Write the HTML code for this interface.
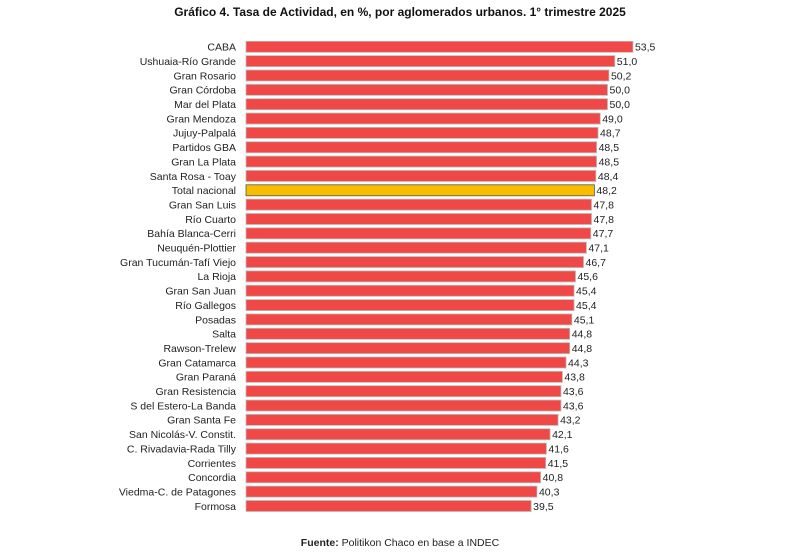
<!DOCTYPE html>
<html><head><meta charset="utf-8"><style>
body{margin:0;background:#fff;width:800px;height:553px;overflow:hidden;font-family:"Liberation Sans",sans-serif;}
svg text{font-family:"Liberation Sans",sans-serif;}
</style></head><body>
<svg id="chart" width="800" height="553" xmlns="http://www.w3.org/2000/svg">
<text x="400" y="16" text-anchor="middle" font-size="12" font-weight="bold" fill="#111">Gráfico 4. Tasa de Actividad, en %, por aglomerados urbanos. 1° trimestre 2025</text>
<text x="400" y="546" text-anchor="middle" font-size="10.5" fill="#222"><tspan font-weight="bold">Fuente:</tspan> Politikon Chaco en base a INDEC</text>
<g id="bars"></g>
</svg>
<script>
const categories=["CABA","Ushuaia-Río Grande","Gran Rosario","Gran Córdoba","Mar del Plata","Gran Mendoza","Jujuy-Palpalá","Partidos GBA","Gran La Plata","Santa Rosa - Toay","Total nacional","Gran San Luis","Río Cuarto","Bahía Blanca-Cerri","Neuquén-Plottier","Gran Tucumán-Tafí Viejo","La Rioja","Gran San Juan","Río Gallegos","Posadas","Salta","Rawson-Trelew","Gran Catamarca","Gran Paraná","Gran Resistencia","S del Estero-La Banda","Gran Santa Fe","San Nicolás-V. Constit.","C. Rivadavia-Rada Tilly","Corrientes","Concordia","Viedma-C. de Patagones","Formosa"];
const values=[53.5,51.0,50.2,50.0,50.0,49.0,48.7,48.5,48.5,48.4,48.2,47.8,47.8,47.7,47.1,46.7,45.6,45.4,45.4,45.1,44.8,44.8,44.3,43.8,43.6,43.6,43.2,42.1,41.6,41.5,40.8,40.3,39.5];
const highlight="Total nacional";
const x=v=>244+v*7.27;
const y=i=>46.8+i*14.35;
const g=document.getElementById('bars');
const NS="http://www.w3.org/2000/svg";
categories.forEach((c,i)=>{
  const v=values[i];
  const r=document.createElementNS(NS,'rect');
  r.setAttribute('x',x(0)+2);r.setAttribute('y',y(i)-5.5);
  r.setAttribute('width',x(v)-x(0)-2);r.setAttribute('height',11);
  const hl=c===highlight;
  r.setAttribute('fill',hl?'#f7bd00':'#f04747');
  r.setAttribute('stroke',hl?'#555':'#bbb');r.setAttribute('stroke-width','0.8');
  
  
  g.appendChild(r);
  const t=document.createElementNS(NS,'text');
  t.setAttribute('x',236);t.setAttribute('y',y(i)+3.8);t.setAttribute('text-anchor','end');
  t.setAttribute('font-size','10.5');t.setAttribute('fill','#222');t.textContent=c;
  
  
  g.appendChild(t);
  const vl=document.createElementNS(NS,'text');
  vl.setAttribute('x',x(v)+2);vl.setAttribute('y',y(i)+3.8);
  vl.setAttribute('font-size','10.5');vl.setAttribute('fill','#222');vl.textContent=v.toFixed(1).replace('.',',');
  
  
  g.appendChild(vl);
});
</script>
</body></html>
